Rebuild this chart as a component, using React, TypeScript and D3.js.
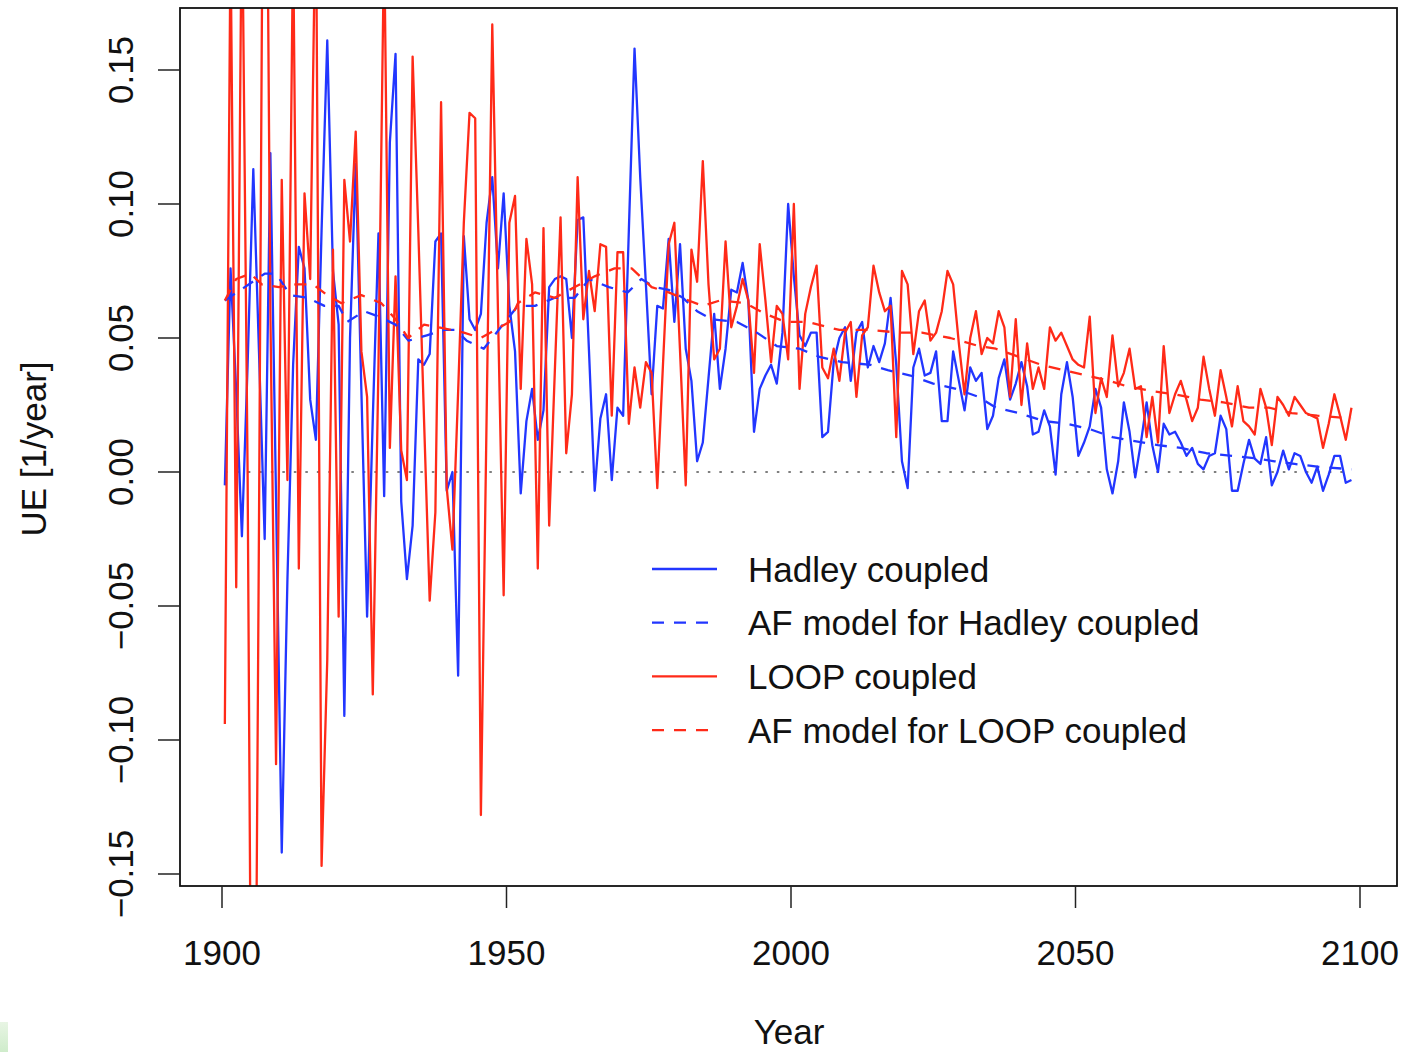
import React from "react";
import * as d3 from "d3";

// ---------- data ----------
const START_YEAR = 1900.5; // first annual value, one value per year

const hadleyCoupled = [
  -0.005, 0.076, 0.03, -0.024, 0.04, 0.113, 0.045, -0.025, 0.119, -0.01,
  -0.142, -0.04, 0.04, 0.084, 0.076, 0.027, 0.012, 0.09, 0.161, 0.075,
  0.055, -0.091, 0.05, 0.115, 0.03, -0.054, 0.02, 0.089, -0.009, 0.123,
  0.156, -0.011, -0.04, -0.02, 0.042, 0.04, 0.044, 0.086, 0.089, -0.007,
  0.0, -0.076, 0.088, 0.057, 0.053, 0.059, 0.093, 0.11, 0.076, 0.104,
  0.062, 0.045, -0.008, 0.019, 0.031, 0.012, 0.023, 0.069, 0.072, 0.073,
  0.072, 0.05, 0.094, 0.095, 0.045, -0.007, 0.02, 0.029, -0.003, 0.024,
  0.021, 0.09, 0.158, 0.11, 0.07, 0.029, 0.062, 0.061, 0.087, 0.056,
  0.085, 0.046, 0.034, 0.004, 0.011, 0.035, 0.059, 0.031, 0.046, 0.068,
  0.067, 0.078, 0.064, 0.015, 0.031, 0.036, 0.04, 0.033, 0.052, 0.1,
  0.073, 0.051, 0.047, 0.052, 0.052, 0.013, 0.015, 0.041, 0.05, 0.054,
  0.034, 0.052, 0.056, 0.039, 0.047, 0.041, 0.048, 0.065, 0.04, 0.004,
  -0.006, 0.039, 0.046, 0.036, 0.037, 0.045, 0.019, 0.019, 0.045, 0.034,
  0.023, 0.039, 0.034, 0.037, 0.016, 0.021, 0.035, 0.042, 0.027, 0.033,
  0.041, 0.032, 0.014, 0.015, 0.023, 0.017, -0.001, 0.029, 0.041, 0.028,
  0.006, 0.011, 0.017, 0.031, 0.024, 0.001, -0.008, 0.004, 0.026, 0.015,
  -0.002, 0.011, 0.026, 0.01, 0.0, 0.018, 0.014, 0.015, 0.011, 0.006,
  0.009, 0.003, 0.001, 0.006, 0.007, 0.021, 0.016, -0.007, -0.007, 0.003,
  0.012, 0.005, 0.003, 0.013, -0.005, 0.0, 0.008, 0.001, 0.007, 0.006,
  0.0, -0.004, 0.002, -0.007, -0.001, 0.006, 0.006, -0.004, -0.003,
];

const loopCoupled = [
  -0.094, 0.2, -0.043, 0.22, 0.0, -0.35, -0.02, 0.35, 0.06, -0.109,
  0.109, -0.003, 0.2, -0.036, 0.104, 0.072, 0.22, -0.147, -0.07, 0.083,
  -0.054, 0.109, 0.086, 0.127, 0.045, 0.028, -0.083, 0.04, 0.2, 0.009,
  0.073, 0.008, -0.003, 0.155, 0.09, 0.02, -0.048, -0.015, 0.138, -0.006,
  -0.029, 0.03, 0.093, 0.134, 0.132, -0.128, 0.02, 0.167, 0.06, -0.046,
  0.093, 0.103, 0.031, 0.087, 0.07, -0.036, 0.091, -0.02, 0.038, 0.095,
  0.007, 0.029, 0.11, 0.057, 0.075, 0.06, 0.085, 0.084, 0.021, 0.082,
  0.082, 0.018, 0.039, 0.024, 0.041, 0.037, -0.006, 0.04, 0.085, 0.093,
  0.045, -0.005, 0.083, 0.071, 0.116, 0.07, 0.042, 0.046, 0.086, 0.054,
  0.062, 0.072, 0.064, 0.037, 0.085, 0.064, 0.041, 0.062, 0.059, 0.042,
  0.1, 0.031, 0.059, 0.069, 0.077, 0.039, 0.035, 0.046, 0.034, 0.052,
  0.056, 0.028, 0.051, 0.054, 0.077, 0.067, 0.06, 0.062, 0.013, 0.075,
  0.07, 0.044, 0.06, 0.064, 0.049, 0.052, 0.06, 0.075, 0.07, 0.048,
  0.029, 0.05, 0.06, 0.044, 0.05, 0.048, 0.06, 0.054, 0.028, 0.057,
  0.025, 0.048, 0.031, 0.039, 0.031, 0.054, 0.049, 0.052, 0.047, 0.042,
  0.04, 0.039, 0.058, 0.022, 0.035, 0.028, 0.051, 0.032, 0.037, 0.046,
  0.031, 0.032, 0.013, 0.028, 0.011, 0.047, 0.022, 0.029, 0.034, 0.027,
  0.019, 0.024, 0.043, 0.031, 0.021, 0.038, 0.028, 0.017, 0.032, 0.019,
  0.017, 0.014, 0.031, 0.024, 0.01, 0.028, 0.025, 0.021, 0.028, 0.025,
  0.022, 0.021, 0.02, 0.009, 0.018, 0.029, 0.021, 0.012, 0.024,
];

const afHadleyYears = [
  1900.5, 1904, 1907.5, 1909.5, 1912, 1915, 1918, 1920.5, 1922, 1925,
  1927.5, 1930.5, 1932.8, 1936, 1939, 1941, 1943, 1946, 1949, 1952,
  1955, 1958.5, 1962, 1964.5, 1968, 1971.3, 1973.7, 1976, 1978.5, 1981,
  1983.5, 1986, 1990.5, 1994, 1997.5, 2001.5, 2005, 2009, 2014, 2017,
  2021, 2025, 2029, 2033, 2036, 2040, 2044.5, 2048.5, 2052.5, 2056.5,
  2059, 2064.5, 2068.5, 2073, 2077.5, 2082, 2085, 2088.5, 2092.5, 2098.5,
];
const afHadley = [
  0.064, 0.069, 0.074, 0.074, 0.066, 0.065, 0.062, 0.062, 0.056, 0.06,
  0.058, 0.055, 0.049, 0.051, 0.053, 0.053, 0.049, 0.046, 0.054, 0.062,
  0.062, 0.065, 0.065, 0.072, 0.069, 0.067, 0.072, 0.069, 0.068, 0.065,
  0.06, 0.057, 0.056, 0.052, 0.047, 0.046, 0.043, 0.041, 0.04, 0.038,
  0.036, 0.033, 0.031, 0.028, 0.024, 0.022, 0.019, 0.018, 0.016, 0.013,
  0.012, 0.01, 0.009, 0.007, 0.006, 0.005, 0.004, 0.003, 0.002, 0.001,
];

const afLoopYears = [
  1900.5, 1902.5, 1905, 1907, 1910, 1913, 1916, 1918.5, 1921, 1924.5,
  1928, 1930.5, 1932.7, 1935.5, 1938, 1942.5, 1945.5, 1948, 1950.5, 1952,
  1955, 1958.5, 1962, 1965.5, 1969, 1972, 1975.5, 1978.5, 1982, 1984.5,
  1987.5, 1992, 1995.5, 1999, 2003, 2008.5, 2014, 2019, 2023, 2028,
  2033, 2036, 2040, 2044, 2048, 2052, 2056, 2059, 2064, 2067.5,
  2072, 2076, 2080.5, 2084, 2088, 2092.5, 2098.5,
];
const afLoop = [
  0.064, 0.072, 0.074, 0.07, 0.069, 0.07, 0.07, 0.066, 0.063, 0.066,
  0.063, 0.057, 0.05, 0.055, 0.054, 0.052, 0.05, 0.053, 0.056, 0.063,
  0.067, 0.065, 0.069, 0.073, 0.076, 0.076, 0.069, 0.067, 0.064, 0.062,
  0.064, 0.063, 0.059, 0.056, 0.056, 0.053, 0.053, 0.052, 0.052, 0.05,
  0.047, 0.046, 0.043, 0.04, 0.038, 0.036, 0.034, 0.032, 0.03, 0.029,
  0.027, 0.026, 0.024, 0.024, 0.022, 0.021, 0.02,
];

const xTicks = [1900, 1950, 2000, 2050, 2100];
const yTicks = [-0.15, -0.1, -0.05, 0, 0.05, 0.1, 0.15];

const legendLabels = [
  "Hadley coupled",
  "AF model for Hadley coupled",
  "LOOP coupled",
  "AF model for LOOP coupled",
];

// ---------- style ----------
const BLUE = "#2236ff";
const RED = "#ff2a18";
const FONT = "'Liberation Sans', Arial, Helvetica, sans-serif";
const DASH = "12 10";
const LW = 2.3;

export default function App() {
  const W = 1405;
  const H = 1052;
  const box = { left: 180, top: 8, right: 1397, bottom: 886 };

  const x = d3.scaleLinear().domain([1900, 2100]).range([222, 1360]);
  const y = d3.scaleLinear().domain([0, 0.15]).range([472, 70]);

  const annual = (vals: number[]) =>
    vals.map((v, i) => [START_YEAR + i, v] as [number, number]);
  const paired = (yrs: number[], vals: number[]) =>
    yrs.map((t, i) => [t, vals[i]] as [number, number]);

  const line = d3
    .line<[number, number]>()
    .x((d) => x(d[0]))
    .y((d) => y(d[1]));

  const fmt = (v: number) => {
    const s = Math.abs(v).toFixed(2);
    return v < 0 ? "\u2212" + s : s;
  };

  const firstYear = START_YEAR;
  const lastYear = START_YEAR + hadleyCoupled.length - 1;

  const legendStyles = [
    { color: BLUE, dash: undefined },
    { color: BLUE, dash: DASH },
    { color: RED, dash: undefined },
    { color: RED, dash: DASH },
  ];

  return (
    <svg
      width={W}
      height={H}
      style={{ position: "absolute", left: 0, top: 0, background: "#fff" }}
      fontFamily={FONT}
    >
      <defs>
        <clipPath id="plotClip">
          <rect
            x={box.left}
            y={box.top}
            width={box.right - box.left}
            height={box.bottom - box.top}
          />
        </clipPath>
        <linearGradient id="edgeGreen" x1="0" y1="0" x2="0" y2="1">
          <stop offset="0" stopColor="#e8f5e4" />
          <stop offset="1" stopColor="#cfeccb" />
        </linearGradient>
      </defs>
      <rect x={0} y={0} width={W} height={H} fill="#fff" />

      <g clipPath="url(#plotClip)" fill="none" strokeLinejoin="round">
        <line
          x1={x(firstYear)}
          x2={x(lastYear)}
          y1={y(0)}
          y2={y(0)}
          stroke="#555"
          strokeWidth={1.6}
          strokeDasharray="2.5 9"
        />
        <path d={line(annual(hadleyCoupled)) || ""} stroke={BLUE} strokeWidth={LW} />
        <path d={line(annual(loopCoupled)) || ""} stroke={RED} strokeWidth={LW} />
        <path
          d={line(paired(afHadleyYears, afHadley)) || ""}
          stroke={BLUE}
          strokeWidth={LW}
          strokeDasharray={DASH}
        />
        <path
          d={line(paired(afLoopYears, afLoop)) || ""}
          stroke={RED}
          strokeWidth={LW}
          strokeDasharray={DASH}
        />
      </g>

      {/* box */}
      <rect
        x={box.left}
        y={box.top}
        width={box.right - box.left}
        height={box.bottom - box.top}
        fill="none"
        stroke="#111"
        strokeWidth={1.8}
      />

      {/* x axis */}
      <g>
        {xTicks.map((t) => (
          <g key={t}>
            <line
              x1={x(t)}
              x2={x(t)}
              y1={box.bottom}
              y2={box.bottom + 22}
              stroke="#222"
              strokeWidth={1.5}
            />
            <text x={x(t)} y={965} fontSize={35} textAnchor="middle" fill="#111">
              {t}
            </text>
          </g>
        ))}
        <text x={789} y={1044} fontSize={35} textAnchor="middle" fill="#111">
          Year
        </text>
      </g>

      {/* y axis */}
      <g>
        {yTicks.map((t) => (
          <g key={t}>
            <line
              x1={box.left - 22}
              x2={box.left}
              y1={y(t)}
              y2={y(t)}
              stroke="#222"
              strokeWidth={1.5}
            />
            <text
              transform={`translate(133,${y(t)}) rotate(-90)`}
              fontSize={35}
              textAnchor="middle"
              fill="#111"
            >
              {fmt(t)}
            </text>
          </g>
        ))}
        <text
          transform={`translate(46,449) rotate(-90)`}
          fontSize={35}
          textAnchor="middle"
          fill="#111"
        >
          UE [1/year]
        </text>
      </g>

      {/* legend */}
      <g>
        {legendLabels.map((lab, i) => {
          const ly = 569 + i * 53.7;
          const st = legendStyles[i];
          return (
            <g key={lab}>
              <line
                x1={652}
                x2={717}
                y1={ly}
                y2={ly}
                stroke={st.color}
                strokeWidth={LW}
                strokeDasharray={st.dash}
              />
              <text x={748} y={ly + 12.5} fontSize={35} fill="#111">
                {lab}
              </text>
            </g>
          );
        })}
      </g>

      {/* faint strip at the lower-left edge, as in the source image */}
      <rect x={0} y={1022} width={8} height={30} fill="url(#edgeGreen)" />
    </svg>
  );
}
